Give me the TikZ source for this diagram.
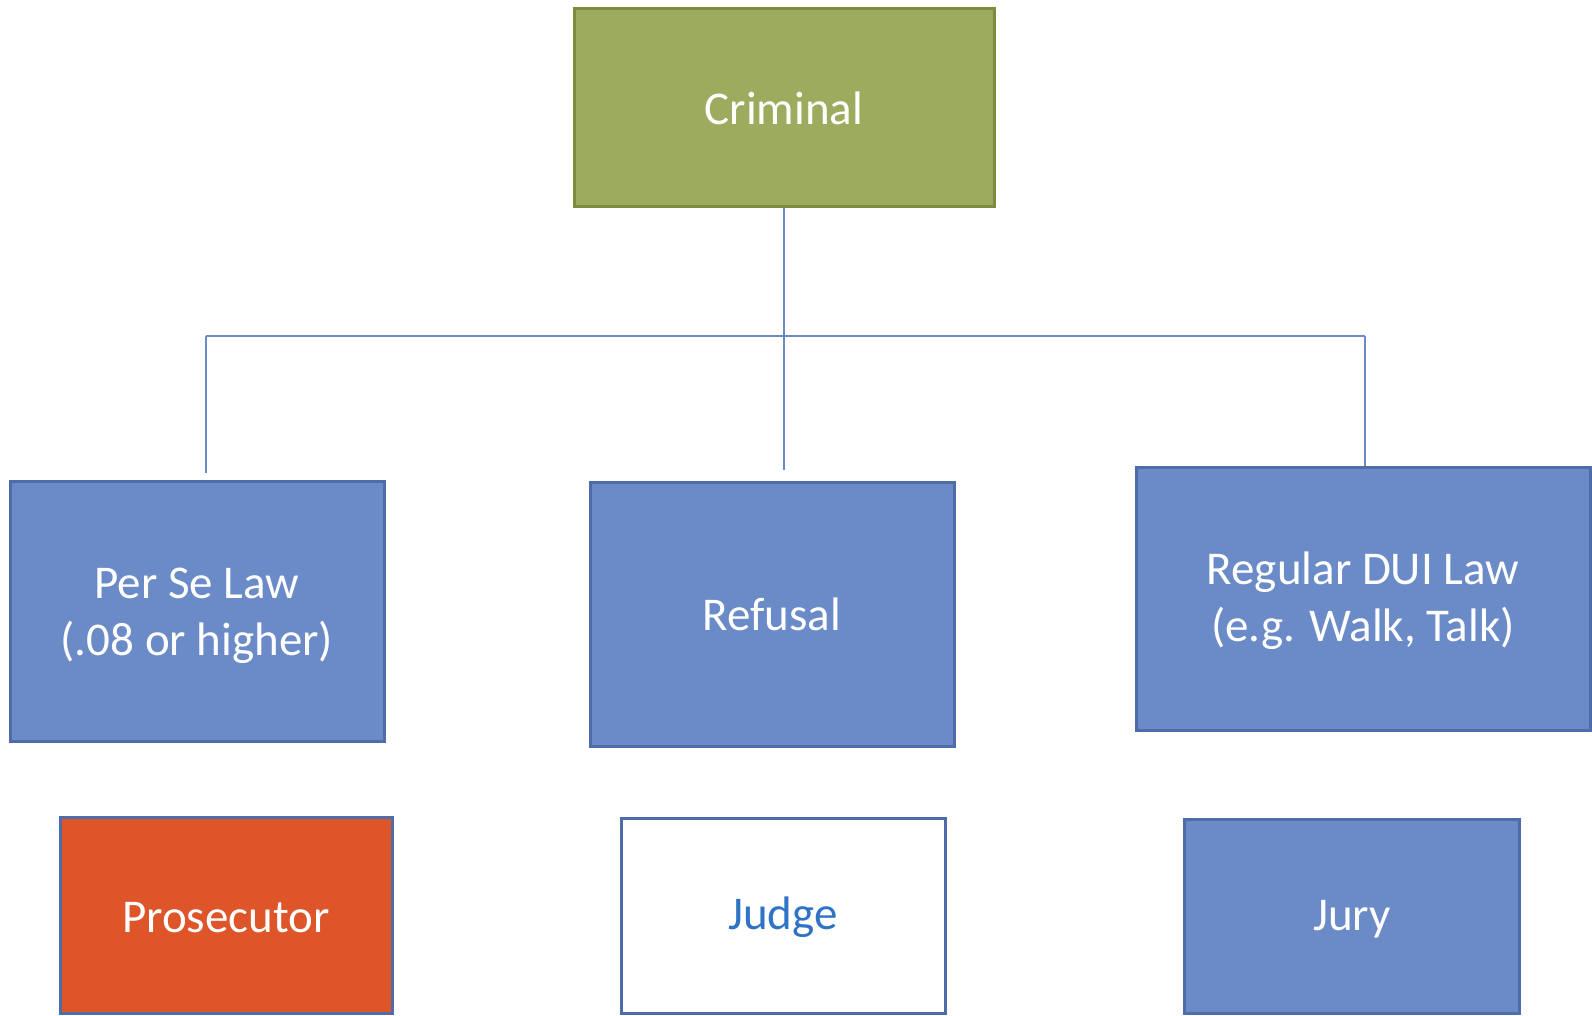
\documentclass[tikz,border=0pt]{standalone}
\usepackage{fontspec}
\setmainfont{Carlito}
\definecolor{olivefill}{HTML}{9DAB5E}
\definecolor{oliveline}{HTML}{7E8A3D}
\definecolor{bluefill}{HTML}{6A8BC7}
\definecolor{blueline}{HTML}{4D6CA8}
\definecolor{redfill}{HTML}{DD5529}
\definecolor{judgetext}{HTML}{2F73C6}
\definecolor{conn}{HTML}{6A8AC8}
\begin{document}
\begin{tikzpicture}[x=1pt,y=-1pt,
  box/.style={rectangle, draw, line width=3pt, align=center, text=white,
    font=\fontsize{47}{57}\selectfont, inner sep=0pt},
  greenbox/.style={box, fill=olivefill, draw=oliveline},
  bluebox/.style={box, fill=bluefill, draw=blueline},
  redbox/.style={box, fill=redfill, draw=blueline},
  whitebox/.style={box, fill=white, draw=blueline, text=judgetext},
  link/.style={draw=conn, line width=1.3pt}]
\useasboundingbox (0,0) rectangle (1592,1016);
\fill[white] (0,0) rectangle (1592,1016);

\node[greenbox, minimum width=420pt, minimum height=198pt] (crim) at (784,108) {Criminal};
\node[bluebox, minimum width=374pt, minimum height=260pt] (perse) at (197,611) {\rule{0pt}{40pt}Per Se Law\\(.08 or higher)};
\node[bluebox, minimum width=364pt, minimum height=264pt] (refusal) at (772,614) {Refusal};
\node[bluebox, minimum width=454pt, minimum height=263pt] (dui) at (1363,598.5) {\rule{0pt}{38pt}Regular DUI Law\\(e.g. Walk, Talk)};
\node[redbox, minimum width=332pt, minimum height=196pt] (pros) at (226,915) {\rule{0pt}{36pt}Prosecutor};
\node[whitebox, minimum width=324pt, minimum height=195pt] (judge) at (783,915.5) {\rule{0pt}{36pt}Judge};
\node[bluebox, minimum width=335pt, minimum height=194pt] (jury) at (1352,916) {\rule{0pt}{36pt}Jury};

\coordinate (hub) at (784,336);
\coordinate (pl) at (206,336);
\coordinate (pr) at (1365,336);
\coordinate (pe) at (206,473);
\coordinate (re) at (784,470);
\draw[link] (crim.south) -- (hub);
\draw[link] (pl) -- (pr);
\draw[link] (pl) -- (pe);
\draw[link] (hub) -- (re);
\draw[link] (pr) -- (pr |- dui.north);
\end{tikzpicture}
\end{document}
